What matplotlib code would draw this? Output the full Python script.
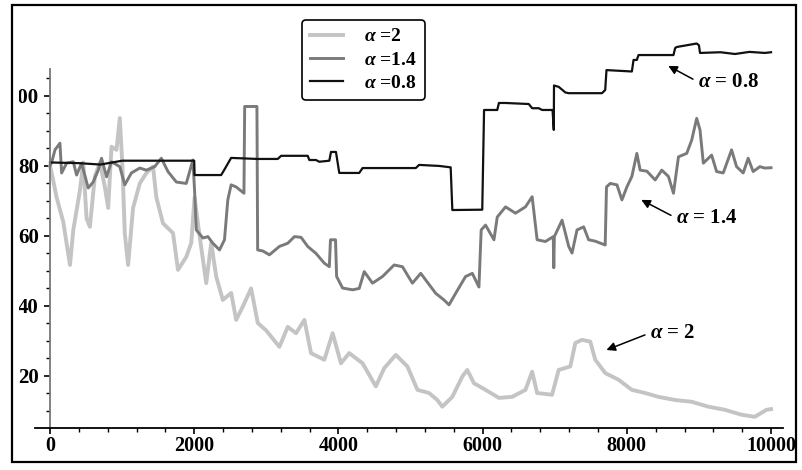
import matplotlib
matplotlib.use("Agg")
import matplotlib.pyplot as plt
from matplotlib.patches import Rectangle
from matplotlib.transforms import Bbox, TransformedBbox
from matplotlib.ticker import MultipleLocator, FixedLocator

# ── Data ──────────────────────────────────────────────────────
X_A2 = [0, 23, 92, 184, 277, 323, 415, 461, 507, 553, 622, 692, 761, 807, 853,
        922, 968, 1005, 1037, 1083, 1152, 1245, 1337, 1429, 1475, 1567, 1706,
        1775, 1890, 1959, 2005, 2075, 2167, 2236, 2305, 2397, 2513, 2582, 2674,
        2789, 2882, 2997, 3182, 3297, 3413, 3528, 3620, 3805, 3920, 4035, 4150,
        4335, 4519, 4635, 4796, 4957, 5096, 5257, 5372, 5441, 5580, 5718, 5787,
        5880, 6041, 6226, 6410, 6594, 6687, 6756, 6963, 7055, 7216, 7286, 7378,
        7493, 7562, 7701, 7885, 8070, 8254, 8438, 8668, 8899, 9129, 9360, 9590,
        9775, 9937, 10000]
Y_A2 = [80, 78, 71, 64, 51.7, 61.7, 73, 81, 65, 62.6, 77, 81, 74, 68, 85.5,
        84.6, 93.7, 79.8, 60.8, 51.7, 68, 75, 78, 79.8, 71, 63.6, 60.8,
        50.3, 54, 58, 71, 60, 46.5, 58, 48.4, 41.7, 43.7, 36, 39.8,
        45, 35.1, 33, 28.3, 34, 32.2, 36, 26.5, 24.6, 32.2, 23.6, 26.5,
        23.6, 17, 22.2, 26, 22.7, 16, 15.1, 13.1, 11.2, 14, 19.8, 21.7,
        17.9, 16, 13.7, 14, 16, 21.2, 15.1, 14.6, 21.7, 22.7, 29.4, 30.3,
        29.8, 24.6, 20.8, 18.9, 16, 15.1, 14, 13.1, 12.6, 11.2, 10.3, 8.9,
        8.3, 10.3, 10.5]

X_A14 = [0, 23, 69, 138, 161, 230, 323, 369, 438, 530, 599, 669, 715, 784, 853,
         968, 1037, 1129, 1245, 1337, 1452, 1544, 1636, 1752, 1890, 1982, 2005,
         2029, 2121, 2190, 2259, 2351, 2420, 2466, 2512, 2582, 2690, 2700, 2870,
         2880, 2951, 3043, 3182, 3297, 3390, 3482, 3574, 3689, 3805, 3874, 3890,
         3960, 3975, 4058, 4197, 4289, 4358, 4473, 4612, 4773, 4888, 5026, 5142,
         5211, 5349, 5464, 5534, 5626, 5764, 5857, 5949, 5980, 6041, 6157, 6203,
         6318, 6456, 6594, 6687, 6756, 6871, 6980, 6987, 6995, 7102, 7194, 7240,
         7309, 7401, 7470, 7562, 7700, 7718, 7770, 7863, 7932, 8001, 8070, 8139,
         8185, 8278, 8393, 8485, 8577, 8647, 8716, 8831, 8900, 8969, 9015, 9061,
         9176, 9245, 9337, 9453, 9522, 9614, 9683, 9752, 9845, 9914, 10000]
Y_A14 = [80, 81, 84.6, 86.5, 78, 80.8, 81.2, 77.4, 80.8, 73.7, 75.4, 78.8, 82.2, 76.9, 81.2,
         79.8, 74.6, 78, 79.4, 78.8, 79.8, 82.2, 78.4, 75.4, 75, 81.7, 73,
         61.7, 59.4, 59.8, 57.9, 56, 58.9, 70.3, 74.6, 74, 72.2, 97, 97,
         56, 55.7, 54.6, 57, 57.9, 59.8, 59.6, 57, 55, 52.2, 51.2, 58.9,
         58.9, 48.4, 45.1, 44.6, 45, 49.8, 46.5, 48.4, 51.7, 51.2, 46.5, 49.3,
         47.4, 43.6, 41.7, 40.3, 43.6, 48.4, 49.3, 45.4, 61.7, 63.1, 58.9, 65.4,
         68.3, 66.5, 68.3, 71.2, 58.9, 58.4, 59.8, 50.9, 59.8, 64.5, 57, 55.1,
         61.7, 62.6, 58.9, 58.5, 57.4, 74, 75, 74.6, 70.3, 74, 77, 83.6,
         78.8, 78.5, 76, 78.8, 77, 72.2, 82.6, 83.6, 87.4, 93.6, 90.3, 80.8,
         83.1, 78.4, 78, 84.6, 79.8, 78, 82.2, 78.4, 79.8, 79.4, 79.5]

X_A08 = [0, 400, 700, 1000, 1500, 2000, 2005, 2374, 2420, 2512, 2880, 3159, 3205,
         3574, 3597, 3689, 3735, 3874, 3897, 3966, 4012, 4289, 4335, 5073, 5119,
         5400, 5557, 5580, 5995, 6020, 6203, 6226, 6318, 6640, 6687, 6779, 6825,
         6970, 6987, 6990, 7056, 7148, 7194, 7655, 7700, 7718, 8070, 8093, 8139,
         8162, 8647, 8670, 8693, 8969, 9000, 9015, 9300, 9500, 9700, 9914, 10000]
Y_A08 = [81, 80.8, 80.4, 81.5, 81.5, 81.5, 77.4, 77.4, 79, 82.3, 82, 82, 82.9,
         82.9, 81.7, 81.7, 81.2, 81.5, 84, 84, 78, 78, 79.4, 79.4, 80.3,
         80, 79.6, 67.4, 67.5, 96, 96, 98, 98, 97.7, 96.5, 96.5, 96,
         96, 90.3, 103, 102.6, 101, 100.8, 100.8, 101.7, 107.4, 107, 110.3, 110.3,
         111.7, 111.7, 113.7, 114, 115, 114.5, 112.3, 112.5, 112, 112.6, 112.3, 112.5]

X_TICKS = [0, 2000, 4000, 6000, 8000, 10000]
Y_TICKS = [20, 40, 60, 80, 100]
LABELS = [r"$\alpha$ =2", r"$\alpha$ =1.4", r"$\alpha$ =0.8"]

# ── Style ─────────────────────────────────────────────────────
plt.rcParams.update({
    "font.family": "Liberation Serif",
    "font.weight": "bold",
    "mathtext.fontset": "custom",
    "mathtext.it": "Liberation Serif:bold:italic",
    "mathtext.rm": "Liberation Serif:bold",
    "mathtext.bf": "Liberation Serif:bold",
})

C_A2, C_A14, C_A08 = "#c4c4c4", "#7a7a7a", "#111111"

W, H = 802, 470
fig = plt.figure(figsize=(W / 100, H / 100), dpi=100)
ax = fig.add_axes([35 / W, (H - 428) / H, 748 / W, (428 - 40) / H])

ax.plot(X_A2, Y_A2, color=C_A2, lw=2.8, label=LABELS[0])
ax.plot(X_A14, Y_A14, color=C_A14, lw=2.1, label=LABELS[1])
ax.plot(X_A08, Y_A08, color=C_A08, lw=1.6, label=LABELS[2])

ax.set_xlim(-208, 10166)
ax.set_ylim(5.1, 116)

for s in ("top", "right"):
    ax.spines[s].set_visible(False)
ax.spines["left"].set_position(("data", 0))
ax.spines["left"].set_bounds(5.1, 107.7)
ax.spines["left"].set_color("#777777")
ax.spines["left"].set_linewidth(1.3)
ax.spines["bottom"].set_linewidth(1.3)

ax.set_xticks(X_TICKS)
ax.set_yticks(Y_TICKS)
ax.xaxis.set_minor_locator(MultipleLocator(400))
ax.yaxis.set_minor_locator(FixedLocator([v for v in range(10, 106, 5) if v % 20]))
ax.tick_params(which="major", direction="out", length=4, width=1.2,
               labelsize=14.5, pad=2)
ax.tick_params(which="minor", direction="out", length=3, width=1.0)
ax.tick_params(axis="y", pad=4, labelsize=15)
ax.set_yticklabels([str(v) for v in Y_TICKS])
ax.set_xticklabels([str(v) for v in X_TICKS])

# legend
leg = ax.legend(loc="upper left", bbox_to_anchor=(302 / W, 1 - 20 / H),
                bbox_transform=fig.transFigure, borderaxespad=0,
                fontsize=14, handlelength=1.7, handletextpad=1.1,
                labelspacing=0.3, borderpad=0.4, fancybox=True,
                framealpha=1, edgecolor="black")
leg.get_frame().set_linewidth(1.2)

# annotations
arrow = dict(arrowstyle="-|>", color="black", lw=1.1, mutation_scale=13,
             shrinkA=2, shrinkB=0)
ax.annotate(r"$\alpha$ = 0.8", xy=(8575, 108.6), xytext=(8990, 104),
            fontsize=15, ha="left", va="center",
            arrowprops=dict(arrow, relpos=(0, 0.5)))
ax.annotate(r"$\alpha$ = 1.4", xy=(8201, 70.3), xytext=(8685, 65.1),
            fontsize=15, ha="left", va="center",
            arrowprops=dict(arrow, relpos=(0, 0.5)))
ax.annotate(r"$\alpha$ = 2", xy=(7717, 27.4), xytext=(8326, 32.3),
            fontsize=15, ha="left", va="center",
            arrowprops=dict(arrow, relpos=(0, 0.5)))

# outer frame
fig.patches.append(Rectangle((12 / W, 1 - 462 / H), 784 / W, 457 / H,
                             transform=fig.transFigure, fill=False,
                             edgecolor="black", lw=1.6))

# the "1" of 100 sits under the frame in the reference
fig.canvas.draw()
clip = TransformedBbox(Bbox([[19 / W, 0], [1, 1]]), fig.transFigure)
for t in ax.yaxis.get_major_ticks():
    t.label1.set_clip_box(clip)
    t.label1.set_clip_on(True)

fig.savefig("out.png", dpi=100)
